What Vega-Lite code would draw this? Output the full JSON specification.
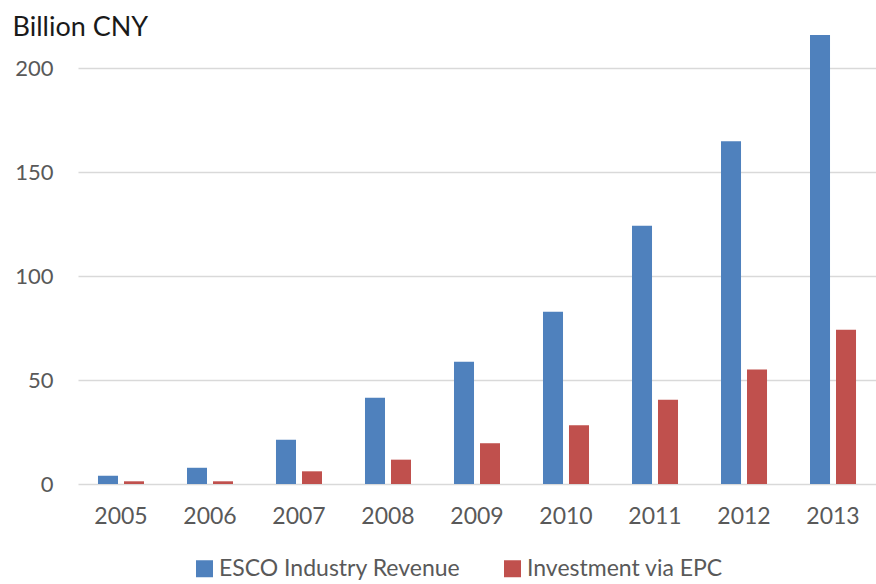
{
  "$schema": "https://vega.github.io/schema/vega-lite/v6.json",
  "autosize": "none",
  "width": 798,
  "height": 468,
  "padding": {"left": 78, "top": 16, "right": 0, "bottom": 100},
  "background": "white",
  "config": {"view": {"stroke": null}, "font": "Lato"},
  "data": {"values": [
    {"year": "2005", "series": "ESCO Industry Revenue", "value": 4.0},
    {"year": "2005", "series": "Investment via EPC", "value": 1.3},
    {"year": "2006", "series": "ESCO Industry Revenue", "value": 7.8},
    {"year": "2006", "series": "Investment via EPC", "value": 1.3},
    {"year": "2007", "series": "ESCO Industry Revenue", "value": 21.3},
    {"year": "2007", "series": "Investment via EPC", "value": 6.1},
    {"year": "2008", "series": "ESCO Industry Revenue", "value": 41.5},
    {"year": "2008", "series": "Investment via EPC", "value": 11.7},
    {"year": "2009", "series": "ESCO Industry Revenue", "value": 58.8},
    {"year": "2009", "series": "Investment via EPC", "value": 19.6},
    {"year": "2010", "series": "ESCO Industry Revenue", "value": 82.8},
    {"year": "2010", "series": "Investment via EPC", "value": 28.2},
    {"year": "2011", "series": "ESCO Industry Revenue", "value": 124.2},
    {"year": "2011", "series": "Investment via EPC", "value": 40.5},
    {"year": "2012", "series": "ESCO Industry Revenue", "value": 164.8},
    {"year": "2012", "series": "Investment via EPC", "value": 55.0},
    {"year": "2013", "series": "ESCO Industry Revenue", "value": 215.9},
    {"year": "2013", "series": "Investment via EPC", "value": 74.2}
  ]},
  "mark": {"type": "bar"},
  "encoding": {
    "x": {
      "field": "year", "type": "nominal",
      "scale": {"paddingInner": 0.483, "paddingOuter": 0.2245},
      "axis": {
        "title": null, "labelAngle": 0, "ticks": false, "domain": false,
        "labelFontSize": 23, "labelColor": "#595959", "labelPadding": 21, "labelFont": "Lato"
      }
    },
    "xOffset": {
      "field": "series", "type": "nominal",
      "sort": ["ESCO Industry Revenue", "Investment via EPC"],
      "scale": {"paddingInner": 0.23, "paddingOuter": 0}
    },
    "y": {
      "field": "value", "type": "quantitative",
      "scale": {"domain": [0, 225], "nice": false},
      "axis": {
        "values": [0, 50, 100, 150, 200],
        "title": "Billion CNY", "titleAngle": 0, "titleAlign": "left", "titleBaseline": "alphabetic",
        "titleX": -66, "titleY": 19, "titleFontSize": 27, "titleFontWeight": "normal",
        "titleColor": "#1a1a1a", "titleFont": "Lato",
        "ticks": false, "domain": false,
        "labelFontSize": 22, "labelColor": "#595959", "labelPadding": 25, "labelFont": "Lato",
        "grid": true, "gridColor": "#d9d9d9", "gridWidth": 1.5
      }
    },
    "color": {
      "field": "series", "type": "nominal",
      "sort": ["ESCO Industry Revenue", "Investment via EPC"],
      "scale": {"domain": ["ESCO Industry Revenue", "Investment via EPC"], "range": ["#4F81BD", "#C0504D"]},
      "legend": {
        "title": null, "orient": "none", "direction": "horizontal",
        "legendX": 115, "legendY": 541,
        "symbolType": "square", "symbolSize": 289, "symbolStrokeWidth": 0,
        "labelFontSize": 23, "labelColor": "#595959", "labelFont": "Lato", "labelOffset": 3,
        "labelLimit": 500, "columnPadding": 40
      }
    }
  }
}
